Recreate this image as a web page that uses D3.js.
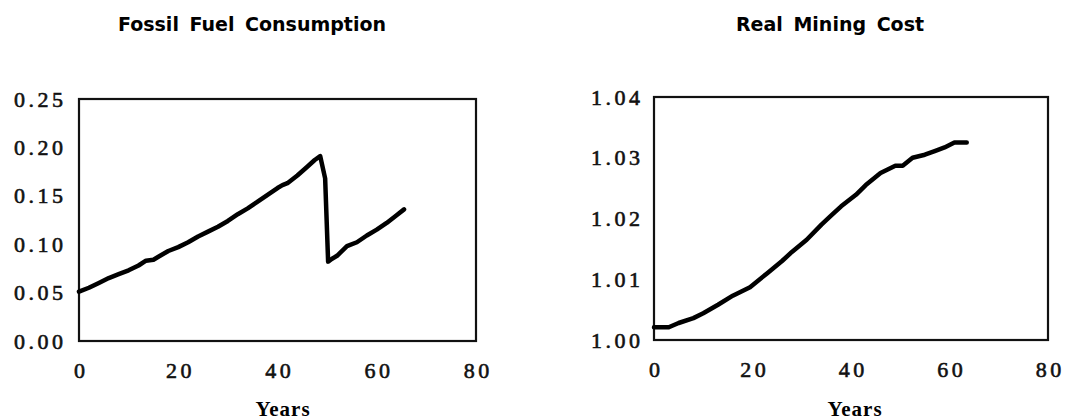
<!DOCTYPE html>
<html>
<head>
<meta charset="utf-8">
<script src="https://cdn.jsdelivr.net/npm/d3@7/dist/d3.min.js"></script>
<style>
  body { margin: 0; background: #fff; }
  .tick text { fill: #111; }
</style>
</head>
<body>
<svg id="chart" width="1071" height="420"></svg>
<script>

// x axis, shared by both panels
var yearTicks = [0, 20, 40, 60, 80];

// left panel: Fossil Fuel Consumption
var fuelTicks = [0, 0.05, 0.10, 0.15, 0.20, 0.25];
var fuelYears = [0, 2, 4, 6, 8, 10, 12, 13.5, 15, 16, 18, 20, 22, 24, 26, 28, 30, 32, 34, 36, 38, 40, 41, 42, 44, 46, 47.5, 48.6,
                 49.6, 50.2, 51, 52, 54, 56, 58, 60, 62, 64, 65.5];
var fuelValues = [0.051, 0.055, 0.060, 0.065, 0.069, 0.073, 0.078, 0.083, 0.084, 0.087, 0.093, 0.097, 0.102, 0.108, 0.113,
                  0.118, 0.124, 0.131, 0.137, 0.144, 0.151, 0.158, 0.161, 0.163, 0.171, 0.180, 0.187, 0.191,
                  0.168, 0.082, 0.085, 0.088, 0.098, 0.102, 0.109, 0.115, 0.122, 0.130, 0.136];

// right panel: Real Mining Cost
var costTicks = [1.00, 1.01, 1.02, 1.03, 1.04];
var costYears = [0, 3, 5, 8, 10, 13, 16, 19.5, 23, 26, 28, 31, 34, 36, 38, 41, 43, 46, 49, 50.5, 52.5, 55, 57, 59, 61, 63.5];
var costValues = [1.0021, 1.0021, 1.0028, 1.0036, 1.0044, 1.0058, 1.0073, 1.0087, 1.0110, 1.0130, 1.0145, 1.0165, 1.0190,
                  1.0205, 1.0220, 1.0239, 1.0255, 1.0275, 1.0287, 1.0287, 1.0300, 1.0305, 1.0311, 1.0317, 1.0325, 1.0325];

var svg = d3.select('#chart');

/* ======================================
 * Serif tick text, slightly thickened to look like the scan
 */
function styleTicks(sel) {
  sel.style('font-family', '"Liberation Serif", serif')
     .style('font-size', '22px')
     .style('letter-spacing', '3.5px')
     .attr('stroke', '#111')
     .attr('stroke-width', 0.6);
}

/* ======================================
 * Draws one boxed panel; box is [left, top, right, bottom] in px
 */
function drawPanel(opts) {

  var box = opts.box;

  var x = d3.scaleLinear().domain([0, 80]).range([box[0], box[2]]);
  var y = d3.scaleLinear().domain(opts.domain).range([box[3], box[1]]);

  var g = svg.append('g');

  // title
  g.append('text')
    .attr('x', opts.titleX)
    .attr('y', 31)
    .attr('text-anchor', 'middle')
    .style('font-family', '"DejaVu Sans", sans-serif')
    .style('font-weight', 'bold')
    .style('font-size', '19px')
    .style('word-spacing', '4px')
    .text(opts.title);

  // y axis labels only, the frame is drawn separately
  var yAxis = g.append('g')
    .attr('transform', 'translate(' + box[0] + ',0)')
    .call(d3.axisLeft(y).tickValues(opts.ticks).tickSize(0).tickPadding(opts.yPad).tickFormat(d3.format('.2f')));
  yAxis.select('.domain').remove();
  styleTicks(yAxis.selectAll('text'));
  yAxis.selectAll('text').attr('dx', '3.5px');

  var xAxis = g.append('g')
    .attr('transform', 'translate(0,' + box[3] + ')')
    .call(d3.axisBottom(x).tickValues(yearTicks).tickSize(0).tickPadding(21.5).tickFormat(d3.format('d')));
  xAxis.select('.domain').remove();
  styleTicks(xAxis.selectAll('text'));
  xAxis.selectAll('text').attr('dx', '1.75px');

  // axis title
  g.append('text')
    .attr('x', opts.yearsX)
    .attr('y', 416)
    .attr('text-anchor', 'middle')
    .style('font-family', '"Liberation Serif", serif')
    .style('font-weight', 'bold')
    .style('font-size', '21px')
    .style('letter-spacing', '1px')
    .text('Years');

  // frame
  g.append('rect')
    .attr('x', box[0])
    .attr('y', box[1])
    .attr('width', box[2] - box[0])
    .attr('height', box[3] - box[1])
    .attr('fill', 'none')
    .attr('stroke', '#111')
    .attr('stroke-width', 2.2);

  var line = d3.line()
    .x(function(d, i) { return x(opts.xs[i]); })
    .y(function(d) { return y(d); });

  g.append('path')
    .datum(opts.ys)
    .attr('d', line)
    .attr('fill', 'none')
    .attr('stroke', '#000')
    .attr('stroke-width', 4.5)
    .attr('stroke-linejoin', 'round')
    .attr('stroke-linecap', 'round');

}

drawPanel({
  box: [79, 99, 476, 341],
  domain: [0, 0.25],
  ticks: fuelTicks,
  xs: fuelYears,
  ys: fuelValues,
  title: 'Fossil Fuel Consumption',
  titleX: 252,
  yearsX: 283,
  yPad: 16
});

drawPanel({
  box: [654, 97, 1048, 340],
  domain: [1.00, 1.04],
  ticks: costTicks,
  xs: costYears,
  ys: costValues,
  title: 'Real Mining Cost',
  titleX: 830,
  yearsX: 855,
  yPad: 14
});

</script>
</body>
</html>
